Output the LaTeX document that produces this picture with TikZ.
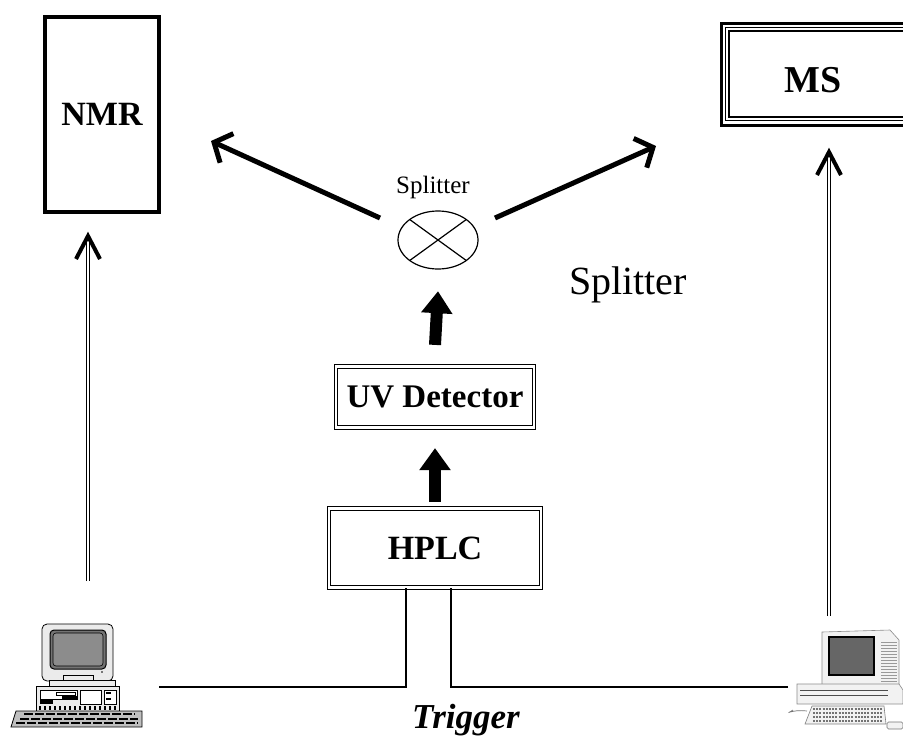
\documentclass[tikz,border=0pt]{standalone}
\usepackage{fontspec}
\setmainfont{Liberation Serif}
\usetikzlibrary{arrows.meta,calc}
\begin{document}
\begin{tikzpicture}[x=1pt,y=-1pt,
  lbl/.style={font=\bfseries\fontsize{34}{40}\selectfont},
  dblbox/.style={draw,double,line width=1.2pt,double distance=2.2pt,minimum width=198pt,inner sep=0pt},
  blockarrow/.style={line width=12pt,-{Triangle[length=22pt,width=30pt]}},
  flow/.style={line width=5pt,-{Straight Barb[length=14pt,width=32pt,line width=5pt]}},
  dblshaft/.style={draw,double,line width=1.3pt,double distance=2pt},
  chev/.style={line width=4pt,line cap=butt,line join=miter},
  wire/.style={line width=1.5pt},
  pcgray/.style={fill=black!22,draw=black,line width=0.8pt},
  pclight/.style={fill=black!8,draw=black!60,line width=0.6pt}]
\useasboundingbox (0,0) rectangle (903,740);

% NMR spectrometer
\node[draw,line width=4pt,minimum width=114pt,minimum height=195pt,inner sep=0pt,
  font=\bfseries\fontsize{34}{40}\selectfont] (nmr) at (102,114) {NMR};

% MS: triple frame, running off the right edge
\draw[line width=3pt] (721,23) rectangle (930,125);
\draw[line width=1pt] (725.5,27.5) rectangle (930,120.5);
\draw[line width=1.6pt] (729,31) rectangle (930,117);
\node[font=\bfseries\fontsize{38}{44}\selectfont] (ms) at (813,80) {MS};

% splitter
\draw[line width=1.2pt] (438,240) ellipse (40 and 29);
\node[inner sep=0pt,minimum width=80pt,minimum height=58pt] (split) at (438,240) {};
\draw[line width=1.2pt] (438,240) ++(-28.3,-20.5) -- ++(56.6,41);
\draw[line width=1.2pt] (438,240) ++(-28.3,20.5) -- ++(56.6,-41);
\node[font=\fontsize{25}{30}\selectfont] (splab) at (433,187) {Splitter};
\node[font=\fontsize{40}{46}\selectfont] (splab2) at (628,285) {Splitter};

% instruments of the flow path
\node[dblbox,minimum height=61pt,font=\bfseries\fontsize{33}{40}\selectfont] (uv) at (435,397) {UV Detector};
\node[dblbox,minimum width=212pt,minimum height=79pt,font=\bfseries\fontsize{34}{40}\selectfont] (hplc) at (435,548) {HPLC};

\draw[blockarrow] (hplc.north) ++(0,-6) -- ($(uv.south)+(0,20)$);
\draw[blockarrow] (uv.north) ++(0,-21) -- ($(split.south)+(0,22)$);

\coordinate (sl) at (380,218);
\coordinate (sr) at (495,218);
\coordinate (tl) at (211,141);
\coordinate (tr) at (656,146);
\draw[flow] (sl) -- (tl);
\draw[flow] (sr) -- (tr);

% control lines from the computers
\coordinate (wl) at (159,687);
\coordinate (wr) at (788,687);
\draw[wire] (wl) -| ($(hplc.south)+(-29,0)$);
\draw[wire] (wr) -| ($(hplc.south)+(16,0)$);
\node[font=\bfseries\itshape\fontsize{35}{40}\selectfont] (trig) at (466,720) {Trigger};

% double-line arrows up to the spectrometers
\coordinate (al0) at (88,581);
\coordinate (al1) at (88,236);
\coordinate (ar0) at (829,616);
\coordinate (ar1) at (829,152);
\draw[dblshaft] (al0) -- ($(al1)+(0,3)$);
\draw[dblshaft] (ar0) -- ($(ar1)+(0,3)$);
\draw[chev] ($(al1)+(-12,23)$) -- (al1) -- ($(al1)+(12,23)$);
\draw[chev] ($(ar1)+(-12,23)$) -- (ar1) -- ($(ar1)+(12,23)$);

% left computer (desktop PC)
\begin{scope}
\draw[pclight,draw=black,line width=0.8pt,rounded corners=5pt] (42,624) rectangle (113,681);
\draw[fill=black!55,draw=black,line width=1pt,rounded corners=4pt] (50,630) rectangle (106,669);
\draw[fill=black!45,draw=black,line width=0.6pt,rounded corners=3pt] (53,633) rectangle (103,666);
\fill[black] (102,672) circle (0.9);
\draw[pclight,draw=black] (63,675) rectangle (93,681);
\draw[pclight,draw=black] (49,680) rectangle (115,686);
\draw[pclight,draw=black] (36,686) rectangle (119,711);
\draw[fill=white,draw=black,line width=0.6pt] (40,690) rectangle (77,699);
\fill[black] (40,699) rectangle (53,704);
\draw[fill=white,draw=black,line width=0.5pt] (56,692) rectangle (75,695);
\draw[fill=black] (62,696) rectangle (77,698);
\draw[fill=white,draw=black,line width=0.5pt] (80,690) rectangle (101,704);
\draw[fill=white,draw=black,line width=0.5pt] (104,690) rectangle (116,704);
\fill[black] (106,692) rectangle (111,694);
\fill[black] (106,698) rectangle (111,700);
\foreach \i in {0,...,15} \fill[black] (39+\i*5,706) rectangle (41+\i*5,710);
\draw[fill=black!25,draw=black,line width=0.8pt] (16,711) -- (142,711) -- (142,727) -- (11,727) -- cycle;
\foreach \r/\a/\b in {714/24/135,719/20/138,723/16/138}
  \draw[black,line width=2pt,dash pattern=on 9pt off 2pt] (\a,\r) -- (\b,\r);
\end{scope}

% right computer (all-in-one desktop)
\begin{scope}
\draw[fill=black!5,draw=black!45,line width=0.6pt] (822,632) -- (890,630) -- (899,640) -- (899,687) -- (822,687) -- cycle;
\foreach \i in {0,...,14} \draw[black!40,line width=0.5pt] (881,642+\i*3) -- (897,642+\i*3);
\draw[fill=black!60,draw=black,line width=1.2pt] (829,637) rectangle (874,675);
\draw[fill=black!5,draw=black!45,line width=0.6pt] (797,684) -- (899,684) -- (903,690) -- (903,704) -- (797,704) -- cycle;
\draw[black!70,line width=1pt] (800,690) -- (888,690);
\draw[black!70,line width=1pt] (800,695) -- (888,695);
\draw[fill=black!5,draw=black!50,line width=0.6pt] (812,706) -- (884,706) -- (886,724) -- (805,724) -- cycle;
\foreach \r in {709,713,717,721}
  \draw[black!55,line width=1.3pt,dash pattern=on 2pt off 1.2pt] (813,\r) -- (883,\r);
\draw[black!55,line width=0.7pt] (807,711) .. controls (790,709) and (784,716) .. (793,710);
\draw[fill=black!5,draw=black!55,line width=0.6pt,rounded corners=1.5pt] (887,722) rectangle (903,729);
\end{scope}
\end{tikzpicture}
\end{document}
